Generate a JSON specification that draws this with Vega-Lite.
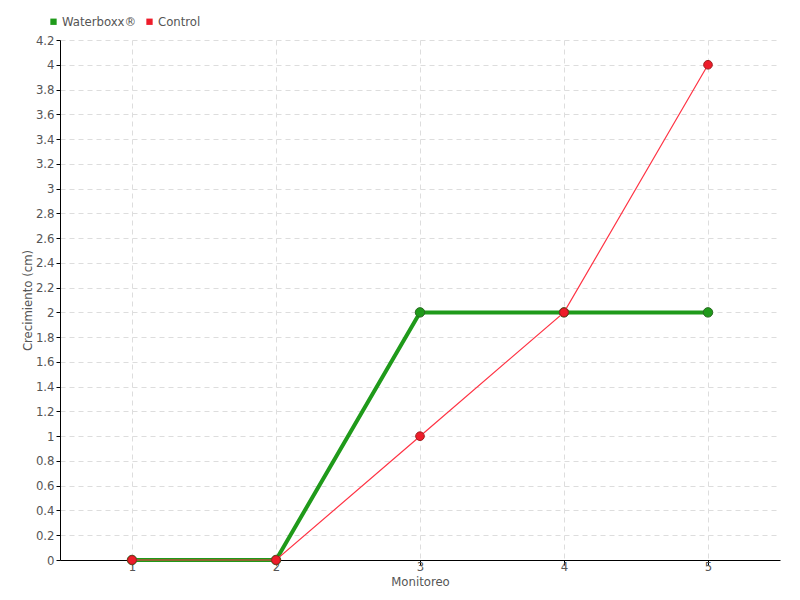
{
  "$schema": "https://vega.github.io/schema/vega-lite/v6.json",
  "width": 720,
  "height": 520,
  "autosize": {"type": "none"},
  "padding": {"left": 60, "top": 40, "right": 20, "bottom": 40},
  "background": "white",
  "config": {
    "font": "'DejaVu Sans Condensed', Roboto, sans-serif",
    "view": {"stroke": null},
    "axis": {
      "labelFont": "'DejaVu Sans Condensed', Roboto, sans-serif",
      "titleFont": "'DejaVu Sans Condensed', Roboto, sans-serif",
      "labelColor": "#555555",
      "titleColor": "#555555",
      "labelFontSize": 13,
      "titleFontSize": 13,
      "titleFontWeight": "normal",
      "domainColor": "#000000",
      "tickColor": "#000000",
      "gridColor": "#dddddd",
      "gridDash": [5, 4]
    }
  },
  "data": {
    "values": [
      {"monitoreo": "1", "serie": "Waterboxx®", "valor": 0},
      {"monitoreo": "2", "serie": "Waterboxx®", "valor": 0},
      {"monitoreo": "3", "serie": "Waterboxx®", "valor": 2},
      {"monitoreo": "4", "serie": "Waterboxx®", "valor": 2},
      {"monitoreo": "5", "serie": "Waterboxx®", "valor": 2},
      {"monitoreo": "1", "serie": "Control", "valor": 0},
      {"monitoreo": "2", "serie": "Control", "valor": 0},
      {"monitoreo": "3", "serie": "Control", "valor": 1},
      {"monitoreo": "4", "serie": "Control", "valor": 2},
      {"monitoreo": "5", "serie": "Control", "valor": 4}
    ]
  },
  "encoding": {
    "x": {
      "field": "monitoreo",
      "type": "ordinal",
      "scale": {"type": "point", "padding": 0.5},
      "axis": {
        "title": "Monitoreo",
        "labelAngle": 0,
        "grid": true,
        "tickSize": 5,
        "labelPadding": -5,
        "titlePadding": 2
      }
    },
    "y": {
      "field": "valor",
      "type": "quantitative",
      "scale": {"domain": [0, 4.2], "nice": false},
      "axis": {
        "title": "Crecimiento (cm)",
        "values": [0, 0.2, 0.4, 0.6, 0.8, 1, 1.2, 1.4, 1.6, 1.8, 2, 2.2, 2.4, 2.6, 2.8, 3, 3.2, 3.4, 3.6, 3.8, 4, 4.2],
        "labelExpr": "format(datum.value, '.1~f')",
        "tickSize": 4,
        "labelPadding": 2,
        "titlePadding": 1
      }
    }
  },
  "layer": [
    {
      "transform": [{"filter": "datum.serie === 'Waterboxx®'"}],
      "mark": {"type": "line", "color": "#1f9a1a", "strokeWidth": 4}
    },
    {
      "transform": [{"filter": "datum.serie === 'Waterboxx®'"}],
      "mark": {"type": "point", "filled": true, "size": 90, "stroke": "#2a6a22", "strokeWidth": 1, "opacity": 1},
      "encoding": {
        "color": {
          "field": "serie",
          "type": "nominal",
          "scale": {"domain": ["Waterboxx®", "Control"], "range": ["#1f9a1a", "#ee1c2a"]},
          "legend": {
            "title": null,
            "orient": "none",
            "legendX": -13,
            "legendY": -25,
            "direction": "horizontal",
            "symbolType": "square",
            "symbolSize": 40,
            "symbolStrokeWidth": 0,
            "labelFont": "'DejaVu Sans Condensed', Roboto, sans-serif",
            "labelFontSize": 13,
            "labelColor": "#555555",
            "labelOffset": 2,
            "columnPadding": 6
          }
        }
      }
    },
    {
      "transform": [{"filter": "datum.serie === 'Control'"}],
      "mark": {"type": "line", "color": "#ff3344", "strokeWidth": 1.2}
    },
    {
      "transform": [{"filter": "datum.serie === 'Control'"}],
      "mark": {"type": "point", "filled": true, "size": 75, "stroke": "#a02020", "strokeWidth": 1, "opacity": 1},
      "encoding": {
        "color": {"field": "serie", "type": "nominal"}
      }
    }
  ]
}
